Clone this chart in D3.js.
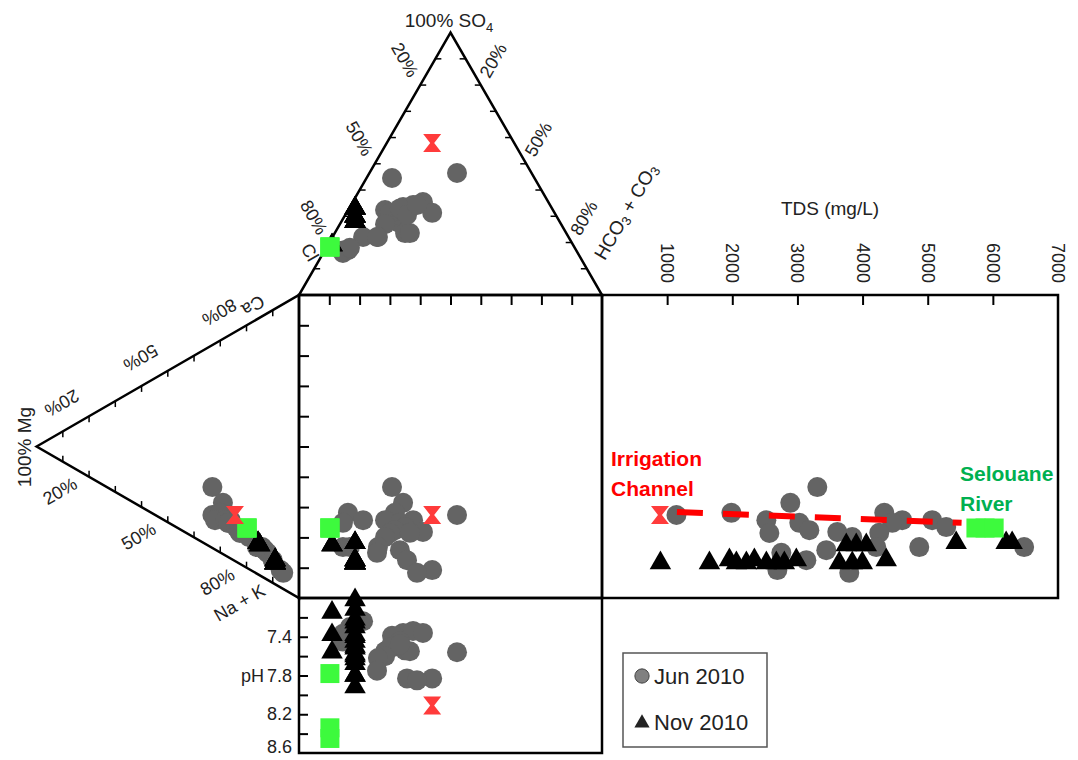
<!DOCTYPE html>
<html>
<head>
<meta charset="utf-8">
<script src="https://cdn.jsdelivr.net/npm/d3@7"></script>
<style>
  body { margin: 0; background: #fff; }
  svg { display: block; }
  text { font-family: "Liberation Sans", Arial, sans-serif; fill: #222; }
</style>
</head>
<body>
<div id="chart"></div>
<script>
// ---- Jun 2010 samples: anions in % (Cl = rest), cations in % (Ca = rest), pH, TDS mg/L
var junSO4  = [44.6, 46.5, 17.1, 33.5, 31.3, 32.4, 34.3, 22.1, 16.0, 27.4, 23.6, 30.5, 35.4, 31.3, 23.6, 27.0, 33.0, 22.1, 17.0, 22.1, 30.5, 31.3, 34.3, 18.0];
var junHCO3 = [8.4, 28.9, 7.6, 17.6, 16.0, 12.2, 20.5, 10.1, 6.5, 19.6, 23.2, 16.4, 23.2, 14.4, 24.8, 14.9, 16.8, 15.0, 6.0, 14.7, 20.4, 28.3, 21.8, 7.8];
var junMg   = [33, 33, 30, 29, 30, 32, 26, 28, 27, 27, 24, 23, 22, 22.5, 20, 19, 13, 15, 14, 12, 10, 7, 6, 16];
var junNaK  = [46.9, 56.1, 56.9, 54.1, 56.9, 58.3, 61.3, 60.3, 61.7, 61.7, 64.6, 66.1, 67.2, 67.3, 68.5, 70.4, 77.7, 75.7, 76.2, 79.1, 82.5, 87.3, 88.7, 75.2];
var junPH   = [7.39, 7.56, 7.37, 7.36, 7.40, 7.55, 7.34, 7.24, 7.37, 7.45, 7.54, 7.50, 7.36, 7.51, 7.55, 7.60, 7.48, 7.62, 7.45, 7.75, 7.83, 7.83, 7.85, 7.30];
var junTDS  = [3305, 1143, 1986, 2891, 4333, 2523, 4609, 5069, 3029, 4456, 5284, 3183, 3612, 2569, 4256, 3842, 3443, 4210, 4870, 2753, 3137, 2692, 3796, 6480];

// ---- Nov 2010 samples
var novSO4  = [19, 19, 19, 33, 33, 30, 28, 30, 33, 28, 30, 33, 28, 30, 33, 28, 30, 33, 28, 30];
var novHCO3 = [1.4, 1.4, 1.4, 2.0, 2.0, 3.5, 4.5, 3.5, 2.0, 4.5, 3.5, 2.0, 4.5, 3.5, 2.0, 4.5, 3.5, 2.0, 4.5, 3.5];
var novMg   = [15, 15, 15, 15.6, 15.6, 15.6, 9.1, 9.1, 9.1, 9.1, 9.1, 9.1, 9.1, 9.1, 9.1, 9.1, 9.1, 9.1, 9.1, 9.1];
var novNaK  = [75.0, 75.0, 75.0, 74.0, 74.0, 74.0, 83.9, 83.9, 82.9, 83.9, 83.9, 82.9, 83.9, 83.9, 83.9, 82.9, 83.9, 83.9, 83.9, 82.9];
var novPH   = [7.15, 7.38, 7.56, 7.30, 7.45, 7.80, 7.02, 7.12, 7.22, 7.38, 7.52, 7.58, 7.63, 7.68, 7.80, 7.92, 7.50, 7.40, 7.25, 7.60];
var novTDS  = [3750, 3903, 4057, 5437, 6204, 6296, 897, 1649, 1956, 2063, 2216, 2339, 2523, 2676, 2799, 2983, 3643, 3842, 3996, 4363];

// ---- Irrigation channel and Selouane river
var irrSO4 = [57.9], irrHCO3 = [15.0], irrMg = [24.4], irrNaK = [60.4], irrPH = [8.11], irrTDS = [890];
var rivSO4 = [18.3, 18.3, 18.3], rivHCO3 = [1.05, 1.05, 1.05], rivMg = [19.8, 19.8, 19.8],
    rivNaK = [67.0, 67.0, 67.0], rivPH = [7.78, 8.34, 8.45], rivTDS = [5740, 5880, 6020];

// mixing line between the two end members (TDS vs cation position)
var mixTDS = [1150, 5520];
var mixCat = [71.6, 75.2];

var pctTicks = [10, 20, 30, 40, 50, 60, 70, 80, 90];
var pctLabels = [20, 50, 80];
var phTicks = [7.2, 7.4, 7.6, 7.8, 8.0, 8.2, 8.4];
var phLabels = [7.4, 7.8, 8.2, 8.6];
var tdsTicks = [1000, 2000, 3000, 4000, 5000, 6000, 7000];

function rows(so4, hco3, mg, nak, ph, tds) {
    return so4.map(function(d, i) {
        return {so4: so4[i], hco3: hco3[i], mg: mg[i], nak: nak[i], ph: ph[i], tds: tds[i]};
    });
}

function durovChart(param) {
    var sqLeft = 299, sqTop = 295, side = 303, tdsRight = 1058, phBottom = 753;
    var th = side * Math.sqrt(3) / 2;

    // scales
    var xMix = d3.scaleLinear().domain([0, 100]).range([sqLeft, sqLeft + side]);   // HCO3 + SO4/2
    var yMix = d3.scaleLinear().domain([0, 100]).range([sqTop, sqTop + side]);     // NaK + Mg/2
    var ySO4 = d3.scaleLinear().domain([0, 100]).range([sqTop, sqTop - th]);
    var xMg  = d3.scaleLinear().domain([0, 100]).range([sqLeft, sqLeft - th]);
    var yPH  = d3.scaleLinear().domain([7.0, 8.6]).range([sqTop + side, phBottom]);
    var xTDS = d3.scaleLinear().domain([0, 7000]).range([sqLeft + side, tdsRight]);

    function pos(d, panel) {
        var u = d.hco3 + d.so4 / 2, v = d.nak + d.mg / 2;
        if (panel == "anion") return [xMix(u), ySO4(d.so4)];
        if (panel == "cation") return [xMg(d.mg), yMix(v)];
        if (panel == "square") return [xMix(u), yMix(v)];
        if (panel == "ph") return [xMix(u), yPH(d.ph)];
        return [xTDS(d.tds), yMix(v)];
    }
    // points on the triangle edges
    function anionPt(so4, hco3) { return pos({so4: so4, hco3: hco3, mg: 0, nak: 0}, "anion"); }
    function cationPt(mg, nak) { return pos({so4: 0, hco3: 0, mg: mg, nak: nak}, "cation"); }

    var svg = d3.select(param.parentSelector).append("svg")
        .attr("width", param.width).attr("height", param.height);

    var frame = svg.append("g").attr("fill", "none").attr("stroke", "#000");

    // triangles
    var topTri = [anionPt(100, 0), anionPt(0, 0), anionPt(0, 100)];
    var leftTri = [cationPt(100, 0), cationPt(0, 0), cationPt(0, 100)];
    frame.append("path").attr("d", "M" + topTri.join("L") + "Z").attr("stroke-width", 2.5);
    frame.append("path").attr("d", "M" + leftTri.join("L") + "Z").attr("stroke-width", 2.5);
    // boxes
    frame.append("rect").attr("x", sqLeft).attr("y", sqTop).attr("width", side).attr("height", side).attr("stroke-width", 2.5);
    frame.append("rect").attr("x", sqLeft + side).attr("y", sqTop).attr("width", tdsRight - sqLeft - side).attr("height", side).attr("stroke-width", 2.5);
    frame.append("rect").attr("x", sqLeft).attr("y", sqTop + side).attr("width", side).attr("height", phBottom - sqTop - side).attr("stroke-width", 2.5);

    // triangle ticks
    var tk = svg.append("g").attr("stroke", "#000").attr("stroke-width", 1.5);
    pctTicks.forEach(function(f) {
        var a = anionPt(100 - f, 0), b = anionPt(100 - f, f), c = cationPt(100 - f, 0), e = cationPt(100 - f, f);
        tk.append("line").attr("x1", a[0]).attr("y1", a[1]).attr("x2", a[0] + 6).attr("y2", a[1]);
        tk.append("line").attr("x1", b[0]).attr("y1", b[1]).attr("x2", b[0] - 6).attr("y2", b[1]);
        tk.append("line").attr("x1", c[0]).attr("y1", c[1]).attr("x2", c[0]).attr("y2", c[1] + 6);
        tk.append("line").attr("x1", e[0]).attr("y1", e[1]).attr("x2", e[0]).attr("y2", e[1] - 6);
    });

    // box ticks via axes
    function cleanAxis(sel) {
        sel.select(".domain").remove();
        sel.selectAll("line").attr("stroke-width", 2);
    }
    svg.append("g").attr("transform", "translate(0," + sqTop + ")")
        .call(d3.axisBottom(xMix).tickValues(pctTicks).tickSize(10).tickFormat("")).call(cleanAxis);
    svg.append("g").attr("transform", "translate(" + sqLeft + ",0)")
        .call(d3.axisRight(yMix).tickValues(pctTicks).tickSize(10).tickFormat("")).call(cleanAxis);
    svg.append("g").attr("transform", "translate(" + sqLeft + ",0)")
        .call(d3.axisRight(yPH).tickValues(phTicks).tickSize(9).tickFormat("")).call(cleanAxis);
    svg.append("g").attr("transform", "translate(0," + sqTop + ")")
        .call(d3.axisBottom(xTDS).tickValues(tdsTicks.slice(0, 6)).tickSize(10).tickFormat("")).call(cleanAxis);

    // edge labels: point + offset along normal / along edge, rotated
    var lab = svg.append("g").attr("font-size", 18).attr("text-anchor", "middle");
    function edgeLabel(p, normal, along, n, a, rot, txt) {
        var x = p[0] + normal[0] * n + along[0] * a, y = p[1] + normal[1] * n + along[1] * a;
        return lab.append("text").attr("transform", "translate(" + x + "," + y + ") rotate(" + rot + ")")
            .attr("dominant-baseline", "central").text(txt);
    }
    var nTL = [-0.866, -0.5], aTL = [0.5, -0.866];
    var nTR = [0.866, -0.5], aTR = [-0.5, -0.866];
    var nLU = [-0.5, -0.866], aLU = [-0.866, 0.5];
    var nLL = [-0.5, 0.866], aLL = [-0.866, -0.5];
    pctLabels.forEach(function(f) {
        edgeLabel(anionPt(100 - f, 0), nTL, aTL, 26, 14, 60, f + "%");
        edgeLabel(anionPt(100 - f, f), nTR, aTR, 23, 15, -60, f + "%");
        edgeLabel(cationPt(100 - f, 0), nLU, aLU, 25, 17, 150, f + "%");
        edgeLabel(cationPt(100 - f, f), nLL, aLL, 27, 18, -30, f + "%");
    });
    edgeLabel(anionPt(12, 0), nTL, aTL, 12, 6, 60, "Cl");
    var hc = edgeLabel(anionPt(20, 80), nTR, aTR, 62, 0, -60, "").attr("font-size", 19);
    hc.append("tspan").text("HCO");
    hc.append("tspan").attr("font-size", 13).attr("dy", 5).text("3");
    hc.append("tspan").attr("dy", -5).text(" + CO");
    hc.append("tspan").attr("font-size", 13).attr("dy", 5).text("3");
    edgeLabel(cationPt(0, 0), nLU, aLU, 14, 45, 150, "Ca");
    edgeLabel(cationPt(0, 100), nLL, aLL, 34, 49, -30, "Na + K");

    var so = lab.append("text").attr("x", 449).attr("y", 27).attr("font-size", 19);
    so.append("tspan").text("100% SO");
    so.append("tspan").attr("font-size", 13).attr("dy", 5).text("4");
    lab.append("text").attr("transform", "translate(24,447) rotate(-90)")
        .attr("dominant-baseline", "central").attr("font-size", 19).text("100% Mg");

    // TDS axis labels
    lab.append("text").attr("x", 830).attr("y", 215).attr("font-size", 19).text("TDS (mg/L)");
    tdsTicks.forEach(function(t) {
        lab.append("text").attr("transform", "translate(" + xTDS(t) + ",243) rotate(90)")
            .attr("text-anchor", "start").attr("dominant-baseline", "central").attr("font-size", 18).text(t);
    });
    // pH labels (last one kept inside the picture)
    phLabels.forEach(function(p) {
        lab.append("text").attr("x", 292).attr("y", Math.min(yPH(p), 747)).attr("text-anchor", "end")
            .attr("dominant-baseline", "central").attr("font-size", 18).text(p.toFixed(1));
    });
    lab.append("text").attr("x", 241).attr("y", 676).attr("text-anchor", "start")
        .attr("dominant-baseline", "central").attr("font-size", 18).text("pH");

    // markers
    var panels = ["anion", "cation", "square", "ph", "tds"];
    var circlePath = d3.symbol(d3.symbolCircle, Math.PI * 100)();
    var triPath = d3.symbol(d3.symbolTriangle, 200)();
    var sqPath = d3.symbol(d3.symbolSquare, 361)();
    var hourPath = "M-9,-9H9L2,0L9,9H-9L-2,0Z";

    function drawSet(data, shape, fill) {
        var g = svg.append("g");
        panels.forEach(function(p) {
            g.selectAll(null).data(data).enter().append("path")
                .attr("d", shape).attr("fill", fill)
                .attr("transform", function(d) { return "translate(" + pos(d, p) + ")"; });
        });
    }
    drawSet(rows(junSO4, junHCO3, junMg, junNaK, junPH, junTDS), circlePath, "#646464");
    drawSet(rows(novSO4, novHCO3, novMg, novNaK, novPH, novTDS), triPath, "#000");
    drawSet(rows(rivSO4, rivHCO3, rivMg, rivNaK, rivPH, rivTDS), sqPath, "#3dfa3d");
    drawSet(rows(irrSO4, irrHCO3, irrMg, irrNaK, irrPH, irrTDS), hourPath, "#ff3b3b");

    // mixing line
    var mix = mixTDS.map(function(t, i) { return {tds: t, cat: mixCat[i]}; });
    svg.append("path").datum(mix)
        .attr("d", d3.line().x(function(d) { return xTDS(d.tds); }).y(function(d) { return yMix(d.cat); }))
        .attr("fill", "none").attr("stroke", "#ff0000").attr("stroke-width", 6)
        .attr("stroke-dasharray", "26,20");

    // annotations
    var ann = svg.append("g").attr("font-family", "Lato, 'Open Sans', sans-serif").attr("font-weight", "bold").attr("font-size", 21);
    ann.append("text").attr("x", 611).attr("y", 466).style("fill", "#ff0000").text("Irrigation");
    ann.append("text").attr("x", 611).attr("y", 496).style("fill", "#ff0000").text("Channel");
    ann.append("text").attr("x", 960).attr("y", 481).style("fill", "#00b050").text("Selouane");
    ann.append("text").attr("x", 960).attr("y", 511).style("fill", "#00b050").text("River");

    // legend
    var lg = svg.append("g").attr("font-family", "Lato, 'Open Sans', sans-serif").attr("font-size", 22);
    lg.append("rect").attr("x", 623).attr("y", 653).attr("width", 144).attr("height", 94)
        .attr("fill", "#fff").attr("stroke", "#555").attr("stroke-width", 1.5);
    lg.append("path").attr("d", d3.symbol(d3.symbolCircle, 160)()).attr("transform", "translate(642,676)")
        .attr("fill", "#808080").attr("stroke", "#444").attr("stroke-width", 1);
    lg.append("path").attr("d", d3.symbol(d3.symbolTriangle, 100)()).attr("transform", "translate(642,723)")
        .attr("fill", "#222");
    lg.append("text").attr("x", 654).attr("y", 676).attr("dominant-baseline", "central").text("Jun 2010");
    lg.append("text").attr("x", 654).attr("y", 722).attr("dominant-baseline", "central").text("Nov 2010");
}

durovChart({parentSelector: "#chart", width: 1078, height: 760});
</script>
</body>
</html>
